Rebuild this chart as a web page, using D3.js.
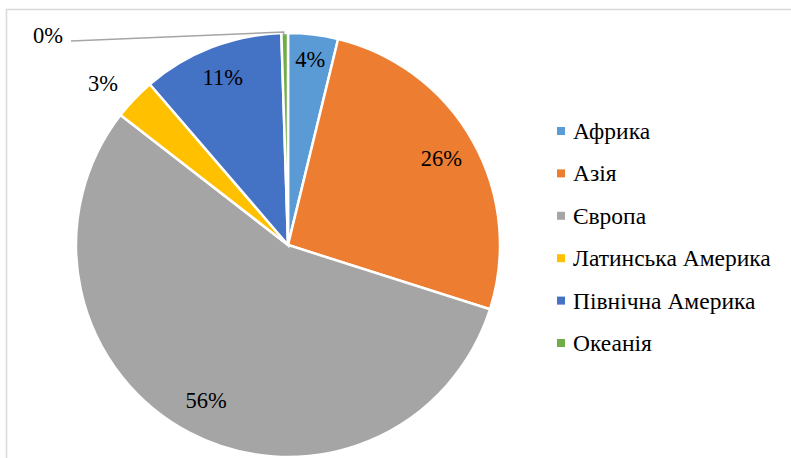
<!DOCTYPE html>
<html>
<head>
<meta charset="utf-8">
<script src="https://cdn.jsdelivr.net/npm/d3@7"></script>
</head>
<body style="margin:0">
<svg id="chart" width="791" height="458" font-family="Times New Roman, Liberation Serif, Tinos, serif"></svg>
<script>
// Share of regions (percent)
const regions = ["Африка", "Азія", "Європа", "Латинська Америка", "Північна Америка", "Океанія"];
const shares = [3.8, 26.1, 55.6, 3.2, 10.8, 0.5];
const labels = ["4%", "26%", "56%", "3%", "11%", "0%"];
const colors = ["#5B9BD5", "#ED7D31", "#A5A5A5", "#FFC000", "#4472C4", "#70AD47"];

const svg = d3.select("#chart");
const serifFont = d => '"Times New Roman"';

// Chart frame
svg.append("rect")
  .attr("x", 6.5).attr("y", 9.5)
  .attr("width", 800).attr("height", 460)
  .attr("fill", "none").attr("stroke", "#d9d9d9").attr("stroke-width", 1.5);

const cx = 288, cy = 245, r = 212;
const data = regions.map((name, i) => ({ name, value: shares[i], label: labels[i], color: colors[i] }));

const pie = d3.pie().value(d => d.value).sort(null);
const arcs = pie(data);
const arc = d3.arc().innerRadius(0).outerRadius(r);

const g = svg.append("g").attr("transform", `translate(${cx},${cy})`);

g.selectAll("path.slice")
  .data(arcs)
  .join("path")
  .attr("class", "slice")
  .attr("d", arc)
  .attr("fill", d => d.data.color)
  .attr("stroke", "#fff")
  .attr("stroke-width", 2.5)
  .attr("stroke-linejoin", "miter");

// Label radii (fraction of the radius) for the inside labels
const labelRadius = { "Африка": 0.88, "Азія": 0.83, "Європа": 0.83, "Північна Америка": 0.85 };

const labelPos = arcs.map(a => {
  const mid = (a.startAngle + a.endAngle) / 2;
  const name = a.data.name;
  if (name === "Латинська Америка") {
    const rr = r * 1.1;
    return [Math.sin(mid) * rr - 16, -Math.cos(mid) * rr - 1];
  }
  if (name === "Океанія") return [-240, -210];
  const rr = r * labelRadius[name];
  return [Math.sin(mid) * rr, -Math.cos(mid) * rr];
});

// Leader line for the smallest slice
const ocean = arcs[5];
const oMid = (ocean.startAngle + ocean.endAngle) / 2;
const ex = Math.sin(oMid) * r, ey = -Math.cos(oMid) * r;
g.append("polyline")
  .attr("points", [[-217, -204], [ex - 1, ey - 1], [ex - 1, ey + 3]].map(p => p.join(",")).join(" "))
  .attr("fill", "none").attr("stroke", "#A5A5A5").attr("stroke-width", 1.5);

g.selectAll("text.pct")
  .data(arcs)
  .join("text")
  .attr("class", "pct")
  .attr("x", (d, i) => labelPos[i][0])
  .attr("y", (d, i) => labelPos[i][1])
  .attr("text-anchor", "middle").attr("dominant-baseline", "central")
  .style("font-family", serifFont).style("font-size", "22.5px")
  .attr("fill", "#000")
  .text(d => d.data.label);

// Legend
const legend = svg.append("g").attr("transform", "translate(557,131)");
const rows = legend.selectAll("g").data(data).join("g")
  .attr("transform", (d, i) => `translate(0,${i * 42.4})`);
rows.append("rect")
  .attr("x", 0).attr("y", -4).attr("width", 8).attr("height", 8)
  .attr("fill", d => d.color);
rows.append("text")
  .attr("x", 16).attr("y", 0)
  .attr("dominant-baseline", "central")
  .style("font-family", serifFont).style("font-size", "23.5px")
  .attr("fill", "#000")
  .text(d => d.name);
</script>
</body>
</html>
